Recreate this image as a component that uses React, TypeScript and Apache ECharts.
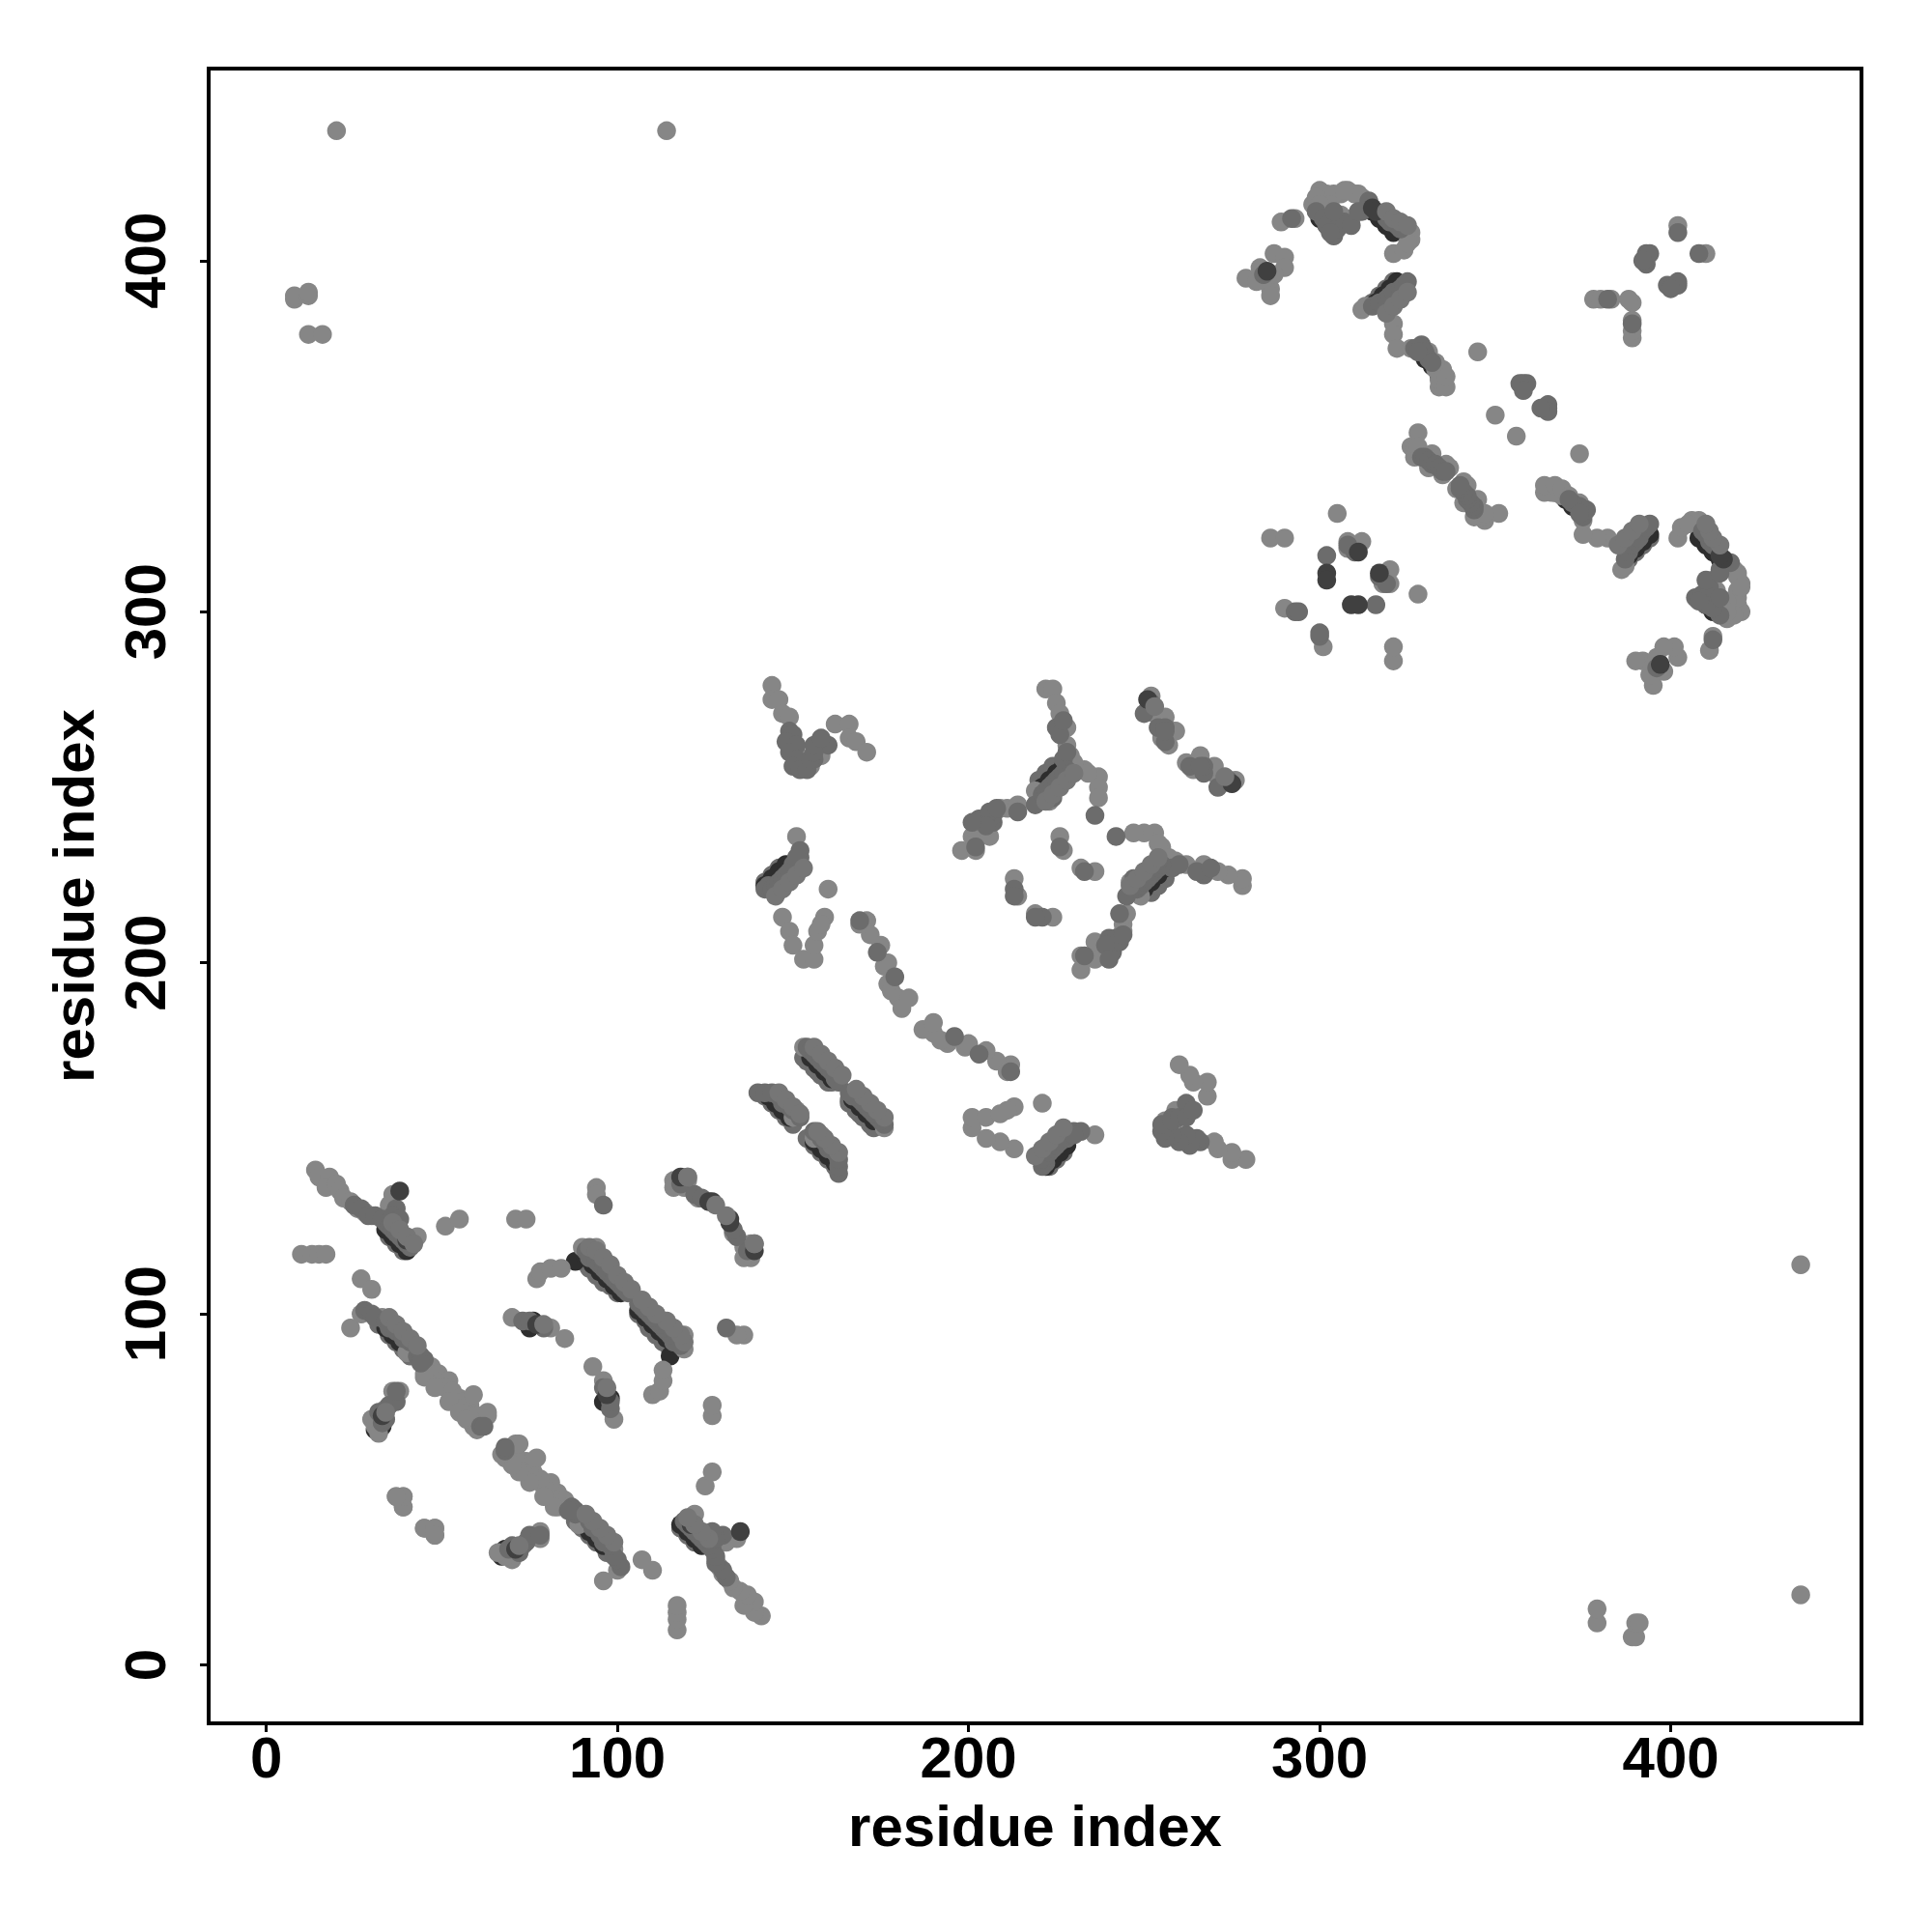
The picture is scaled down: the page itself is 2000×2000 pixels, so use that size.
import React, { useEffect, useRef } from "react";
import * as echarts from "echarts";

const tickValues = [0, 100, 200, 300, 400];
const axisTitle = "residue index";

// Contacts are (i, j) residue pairs with i < j; the map shows each one at (i, j) and (j, i).
const contactsRim: number[][] = [
  [35,122],[37,120],[39,118],[32,97],[35,94],[37,92],[39,90],[41,88],[90,115],[92,113],[94,111],[96,109],[98,108],[100,106],
  [142,223],[144,225],[146,227],[142,162],[144,160],[146,158],[148,156],[150,154],[154,172],[156,170],[158,168],[160,166],[153,173],[156,171],[157,169],[158,168],[160,167],[161,166],
  [220,252],[222,254],[224,256],[315,388],[317,390],[319,392],[321,394],
];
const contactsBack: number[][] = [
  [34,124],[36,122],[38,120],[40,118],[34,96],[36,94],[38,92],[40,90],[31,67],[33,68],[88,115],[91,116],[93,114],[95,112],[97,110],[99,108],[101,106],
  [142,222],[144,224],[146,226],[148,228],[143,162],[145,160],[147,158],[149,156],[155,173],[157,171],[159,169],[161,167],
  [221,250],[223,252],[225,254],[227,256],[316,388],[318,390],[320,392],[322,394],[300,412],[302,410],[304,408],[315,414],[317,412],[319,410],[321,408],
  [330,372],[332,370],[334,367],[75,96],[76,98],
];
const contactsLight: number[][] = [
  [14,141],[15,139],[18,139],[17,136],[20,137],[21,135],[22,133],[24,132],[26,130],[28,129],[30,128],[36,134],[35,131],[43,122],[51,125],[55,127],
  [10,117],[13,117],[15,117],[17,117],[27,110],[30,107],[24,96],
  [27,100],[33,99],[36,97],[38,95],[40,93],[42,91],[40,89],[47,85],[45,83],[49,83],[50,81],[52,81],[51,79],[53,78],[55,76],[56,75],[58,74],[55,73],[58,71],[60,71],[63,71],[59,68],
  [45,82],[48,79],[52,75],[55,72],[57,70],[60,67],[59,77],[63,72],
  [30,70],[31,68],[32,66],[34,73],[36,78],[38,78],[37,48],[39,48],[39,45],[45,39],[48,39],[48,37],
  [70,99],[81,96],[85,93],[71,127],[74,127],[77,110],[78,112],[81,113],[84,113],[90,119],[94,119],[94,136],[94,134],
  [116,138],[120,138],[119,136],[116,136],[123,133],
  [144,279],[144,275],[146,275],[147,271],[149,270],[150,260],[155,256],[153,258],[158,259],[158,263],[162,268],[166,268],[166,264],[168,263],[171,260],[151,256],[152,257],
  [160,221],[151,236],[147,213],[149,209],[150,205],[153,201],[156,201],[156,205],[157,209],[159,213],[158,211],
  [171,212],[172,208],[175,205],[176,199],[177,200],[177,194],[178,192],[180,190],[181,187],[183,190],[169,211],[153,176],[163,168],[151,158],[150,156],
  [198,232],[202,232],[205,237],[201,236],[202,238],[206,236],[209,244],[211,244],[214,245],[219,249],[223,246],[222,278],[224,278],[225,274],[226,271],[228,267],[228,262],[229,259],[229,256],[233,255],[237,253],[237,250],[237,247],[230,257],[234,254],
  [226,236],[227,232],[213,224],[214,219],[251,272],[253,271],[258,266],[255,264],[257,262],[259,266],[256,270],[252,276],
  [279,395],[282,394],[283,398],[286,392],[286,390],[287,402],[290,401],[290,398],[287,396],[289,411],[293,412],[298,416],[300,418],[302,419],[306,419],[310,419],[312,418],[306,413],[309,412],[326,408],[326,406],[321,402],[324,403],[325,405],
  [300,420],[304,419],[308,420],[303,416],[311,419],[307,420],[299,418],[300,416],
  [312,386],[313,387],[321,382],[321,379],[322,375],[326,375],[335,365],[335,367],[334,364],[333,369],[334,366],[336,364],[336,367],[335,369],[333,371],[331,374],[345,374],[350,356],[305,328],[328,351],[326,347],[327,346],
  [327,344],[331,341],[335,339],[328,347],[332,345],[336,342],[337,341],
  [378,389],[380,389],[383,389],[389,388],[402,410],[286,321],[290,321],[290,301],[308,320],[312,320],[308,318],[12,379],[16,379],[8,389],[8,390],[12,390],[12,391],[20,437],[114,437],
];
const contactsMid: number[][] = [
  [25,131],[27,130],[29,128],[31,128],[33,127],[34,126],[35,125],[36,124],[37,123],[38,122],[39,121],[40,120],[41,119],[37,130],[36,128],[38,127],
  [28,101],[30,100],[31,99],[34,98],[35,96],[37,95],[39,93],[41,92],[43,88],[44,88],[45,87],[44,86],[61,68],[62,68],
  [32,72],[33,69],[34,70],[35,74],[37,75],[37,78],[73,98],[75,98],[79,96],[96,131],
  [91,118],[92,116],[93,118],[94,115],[95,114],[96,113],[97,112],[98,111],[99,110],[100,109],[101,108],[102,107],[103,106],
  [118,137],[122,134],[124,133],[149,266],[150,265],[150,262],[148,263],[151,262],[153,256],[156,258],[160,262],
  [149,260],[151,258],[150,256],[152,255],[154,255],[155,258],[156,260],[156,262],[158,264],
  [142,221],[143,222],[144,221],[145,222],[146,223],[147,224],[148,225],[149,226],[150,228],[151,229],[152,230],[152,232],[151,230],
  [169,212],[174,203],[179,196],[140,163],[142,163],[144,163],[146,162],[147,160],[148,160],[149,159],[150,158],[152,156],
  [154,176],[155,175],[156,174],[157,173],[158,172],[159,171],[160,170],[161,169],[162,167],[163,166],
  [202,233],[207,240],[203,241],[207,242],[206,243],[208,244],[205,239],[201,240],[214,243],[219,245],[225,267],[226,265],[227,258],[228,260],[227,269],
  [221,248],[222,249],[223,250],[224,251],[225,252],[226,253],[227,254],[228,255],[229,254],[224,247],[236,242],
  [226,233],[213,221],[213,219],[250,271],[254,267],[256,267],[256,263],[256,266],[252,274],
  [284,396],[292,412],[299,414],[301,412],[302,410],[304,407],[305,409],[307,411],[304,414],[312,414],[314,417],[319,412],[320,411],[322,410],[323,409],[309,410],[311,414],[303,408],
  [315,387],[317,388],[319,389],[320,390],[321,391],[323,392],[324,393],[325,394],[327,375],[329,376],[330,374],[331,372],[332,371],[328,374],
  [358,365],[359,365],[357,365],[358,363],[329,344],[330,344],[331,343],[332,342],[333,342],[334,341],[335,340],[336,340],
  [382,389],[393,402],[393,399],[394,402],[392,400],[402,408],[302,316],[293,300],[294,300],[310,317],[308,319],
];
const contactsDark: number[][] = [
  [38,135],[40,121],[77,97],[132,127],[126,132],[139,118],[33,71],[251,275],[285,397],[315,415],[316,414],
  [302,311],[302,309],[311,317],
];
const contactsTop: number[][] = [
  [36,126],[38,124],[40,122],[42,120],[35,99],[37,97],[39,95],[41,93],[43,91],[34,72],[79,97],
  [92,119],[94,118],[96,116],[98,114],[100,111],[102,109],[104,107],[139,120],[120,139],[128,131],
  [145,219],[147,221],[149,223],[151,225],[153,227],[146,163],[148,161],[150,159],[152,157],
  [156,176],[158,174],[160,172],[162,170],[164,168],[222,246],[224,248],[226,250],[228,252],[230,254],
  [253,273],[319,385],[321,387],[323,389],[325,391],[319,414],[321,412],[323,411],[325,410],
];

const mirrored = (pairs: number[][]) => pairs.flatMap(([i, j]) => [[i, j], [j, i]]);

const fontFamily = "'Liberation Sans', Arial, sans-serif";

const makeSeries = (pairs: number[][], color: string) => ({
  type: "scatter",
  data: mirrored(pairs),
  symbol: "circle",
  symbolSize: 19.5,
  itemStyle: { color, opacity: 1 },
  silent: true,
});

export default function App() {
  const ref = useRef<HTMLDivElement>(null);
  useEffect(() => {
    const chart = echarts.init(ref.current!, undefined, { renderer: "svg" });
    const axisBase = {
      type: "value",
      name: axisTitle,
      nameLocation: "middle",
      nameTextStyle: { fontFamily, fontWeight: "bold", fontSize: 60, color: "#000" },
      splitLine: { show: false },
      axisLine: { show: false, onZero: false },
      axisTick: { show: true, length: 9, lineStyle: { color: "#000", width: 3 }, customValues: tickValues },
    };
    chart.setOption({
      animation: false,
      backgroundColor: "#fff",
      grid: { left: 216, top: 71, width: 1711, height: 1713, show: true, borderColor: "#000", borderWidth: 4, backgroundColor: "transparent" },
      xAxis: {
        ...axisBase,
        min: -16.42,
        max: 454.3,
        nameGap: 76,
        axisLabel: { fontFamily, fontWeight: "bold", fontSize: 60, color: "#000", margin: 5, customValues: tickValues },
      },
      yAxis: {
        ...axisBase,
        min: -16.6,
        max: 454.7,
        nameGap: 110,
        nameRotate: 90,
        axisLabel: { fontFamily, fontWeight: "bold", fontSize: 60, color: "#000", margin: 36, rotate: 90, customValues: tickValues },
      },
      series: [
        makeSeries(contactsRim, "#6e6e6e"),
        makeSeries(contactsBack, "#2e2e2e"),
        makeSeries(contactsLight, "#868686"),
        makeSeries(contactsMid, "#6c6c6c"),
        makeSeries(contactsDark, "#404040"),
        makeSeries(contactsTop, "#767676"),
      ],
    });
    return () => chart.dispose();
  }, []);
  return <div ref={ref} style={{ position: "absolute", left: 0, top: 0, width: 2000, height: 2000 }} />;
}
